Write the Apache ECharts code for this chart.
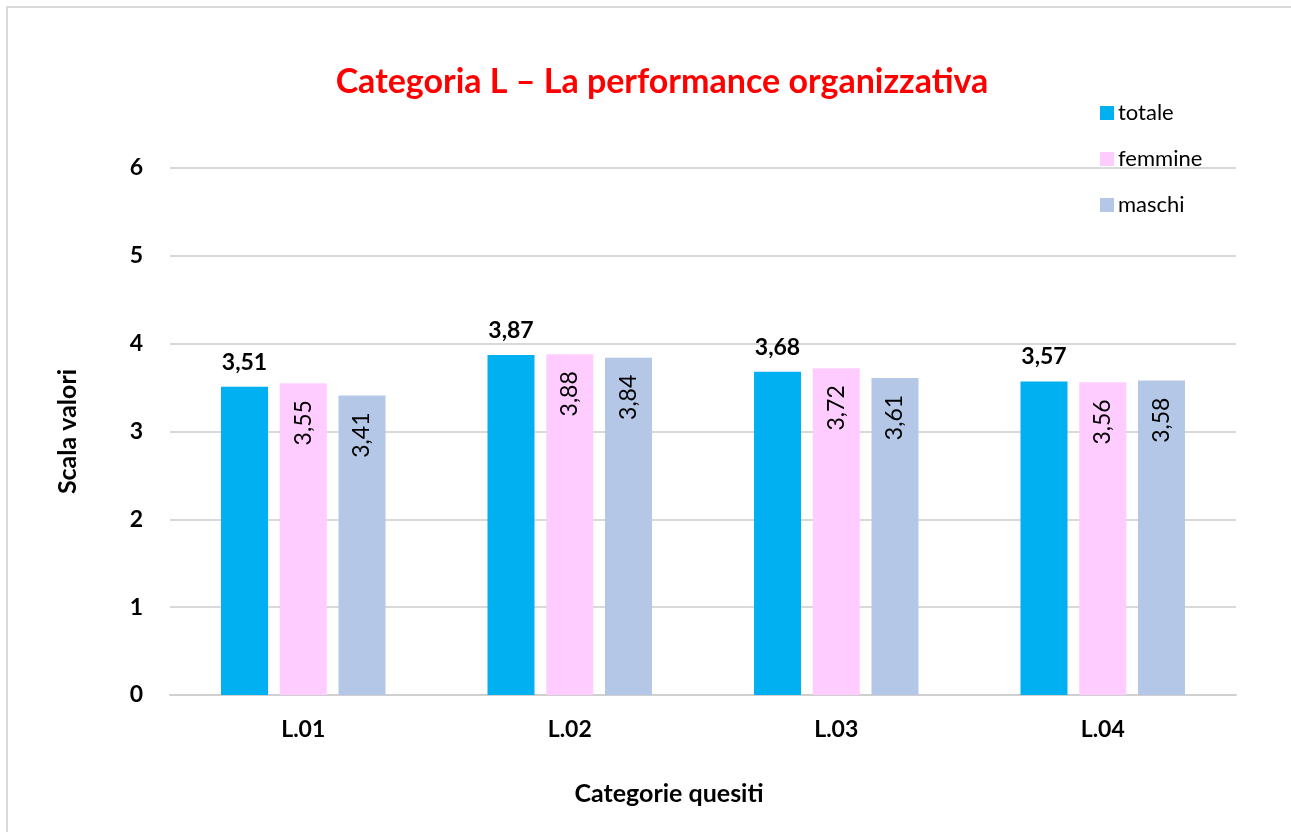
<!DOCTYPE html>
<html>
<head>
<meta charset="utf-8">
<script src="https://cdn.jsdelivr.net/npm/echarts@6/dist/echarts.min.js"></script>
<style>
	html, body { margin: 0; padding: 0; background: #fff; }
	#main { width: 1291px; height: 832px; }
</style>
</head>
<body>
<div id="main"></div>
<script>
	//categorie e valori
	var categorie = ['L.01', 'L.02', 'L.03', 'L.04'];
	var totale = [3.51, 3.87, 3.68, 3.57];
	var femmine = [3.55, 3.88, 3.72, 3.56];
	var maschi = [3.41, 3.84, 3.61, 3.58];
	var yTicks = [0, 1, 2, 3, 4, 5, 6];

	var font = 'Lato, "Open Sans", sans-serif';

	//formato con virgola
	function fmt(p){
		return p.value.toFixed(2).replace('.', ',');
	}

	var myChart = echarts.init(document.getElementById('main'));

	//etichetta ruotata dentro la barra
	var innerLabel = {
		show: true,
		position: 'insideTop',
		distance: 17,
		rotate: 90,
		align: 'right',
		verticalAlign: 'middle',
		formatter: fmt,
		color: '#000',
		fontSize: 23,
		fontFamily: font
	};

	var option = {
		animation: false,
		textStyle: { fontFamily: font },
		graphic: [{
			type: 'rect',
			shape: { x: 7, y: 7, width: 1300, height: 840 },
			style: { fill: 'none', stroke: '#d9d9d9', lineWidth: 2 },
			silent: true
		}],
		title: [{
			text: 'Categoria L – La performance organizzativa',
			left: 657,
			top: 60,
			textAlign: 'center',
			textStyle: { color: '#ff0000', fontSize: 34, fontWeight: 'bold', fontFamily: font }
		}, {
			text: 'Categorie quesiti',
			left: 664,
			top: 776,
			textAlign: 'center',
			textStyle: { color: '#000', fontSize: 25, fontWeight: 'bold', fontFamily: font }
		}],
		legend: {
			orient: 'vertical',
			left: 1095,
			top: 97,
			itemWidth: 14,
			itemHeight: 14,
			itemGap: 24,
			icon: 'rect',
			textStyle: { fontSize: 22, color: '#000', fontFamily: font, padding: [0, 0, 0, -1] },
			data: ['totale', 'femmine', 'maschi']
		},
		grid: { left: 170, right: 55, top: 168, bottom: 137 },
		xAxis: {
			type: 'category',
			data: categorie,
			axisLine: { lineStyle: { color: '#d0d0d0', width: 2 } },
			axisTick: { show: false },
			axisLabel: { fontSize: 23, fontWeight: 'bold', color: '#000', margin: 23, fontFamily: font }
		},
		yAxis: {
			type: 'value',
			min: yTicks[0],
			max: yTicks[yTicks.length - 1],
			interval: 1,
			name: 'Scala valori',
			nameLocation: 'middle',
			nameGap: 90,
			nameTextStyle: { fontSize: 25, fontWeight: 'bold', color: '#000', fontFamily: font },
			axisLine: { show: false },
			axisTick: { show: false },
			splitLine: { lineStyle: { color: '#d9d9d9', width: 2 } },
			axisLabel: { fontSize: 23, fontWeight: 'bold', color: '#000', margin: 27, fontFamily: font }
		},
		series: [{
			name: 'totale',
			type: 'bar',
			data: totale,
			barWidth: 47,
			barGap: '25%',
			itemStyle: { color: '#00b0f0' },
			label: {
				show: true,
				position: 'top',
				distance: 13,
				formatter: fmt,
				color: '#000',
				fontSize: 23,
				fontWeight: 'bold',
				fontFamily: font
			}
		}, {
			name: 'femmine',
			type: 'bar',
			data: femmine,
			barWidth: 47,
			barGap: '25%',
			itemStyle: { color: '#ffccff' },
			label: innerLabel
		}, {
			name: 'maschi',
			type: 'bar',
			data: maschi,
			barWidth: 47,
			barGap: '25%',
			itemStyle: { color: '#b4c7e7' },
			label: innerLabel
		}]
	};

	myChart.setOption(option);
</script>
</body>
</html>
